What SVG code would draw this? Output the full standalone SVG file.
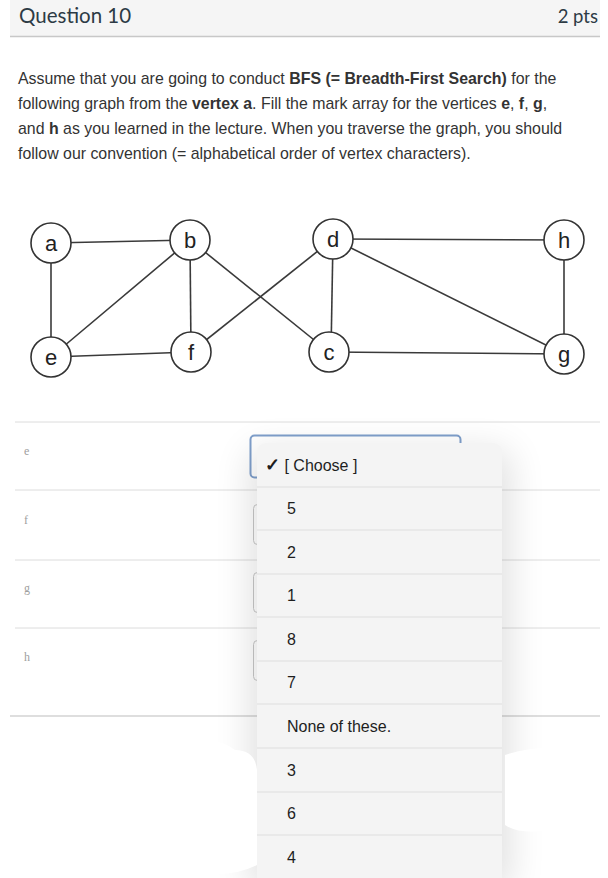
<svg xmlns="http://www.w3.org/2000/svg" width="608" height="878" viewBox="0 0 608 878">
<defs>
<filter id="sh" x="-30%" y="-10%" width="160%" height="130%"><feGaussianBlur stdDeviation="18"/></filter>
<style>
.hd{font-family:Lato,"Liberation Sans",sans-serif;font-size:20.5px;fill:#2d3b45}
.p{font-family:"Liberation Sans",Arial,sans-serif;font-size:15.9px;fill:#333}
.b{font-weight:bold}
.edge{stroke:#3a3a3a;stroke-width:1.6;fill:none}
.node circle{fill:#fff;stroke:#333;stroke-width:1.6}
.node text{font-family:"Liberation Sans",Arial,sans-serif;font-size:22px;fill:#222;text-anchor:middle}
.row{stroke:#dcdcdc;stroke-width:1}
.lbl{font-family:"Liberation Serif",serif;font-size:12px;fill:#a0a0a0}
.opt{font-family:"Liberation Sans",Arial,sans-serif;font-size:16px;fill:#1e1e1e}
.sep{stroke:#dedede;stroke-width:1}
</style>
</defs>
<rect width="608" height="878" fill="#fff"/>
<!-- header -->
<rect x="10" y="0" width="590" height="36" fill="#f5f5f5"/>
<line x1="10" y1="36.5" x2="600" y2="36.5" stroke="#c8c8c8" stroke-width="1.5"/>
<text class="hd" x="19" y="23">Question 10</text>
<text class="hd" x="598" y="23" text-anchor="end" style="font-size:18.5px">2 pts</text>
<!-- paragraph -->
<text class="p" x="18" y="84">Assume that you are going to conduct <tspan class="b">BFS (= Breadth-First Search)</tspan> for the</text>
<text class="p" x="18" y="109">following graph from the <tspan class="b">vertex a</tspan>. Fill the mark array for the vertices <tspan class="b">e</tspan>, <tspan class="b">f</tspan>, <tspan class="b">g</tspan>,</text>
<text class="p" x="18" y="134">and <tspan class="b">h</tspan> as you learned in the lecture. When you traverse the graph, you should</text>
<text class="p" x="18" y="159">follow our convention (= alphabetical order of vertex characters).</text>
<!-- graph -->
<g id="connectors">
<line class="edge" x1="51" y1="243" x2="190" y2="240"/>
<line class="edge" x1="51" y1="243" x2="51" y2="357"/>
<line class="edge" x1="51" y1="357" x2="190" y2="240"/>
<line class="edge" x1="190" y1="240" x2="191" y2="352"/>
<line class="edge" x1="190" y1="240" x2="329" y2="352"/>
<line class="edge" x1="51" y1="357" x2="191" y2="352"/>
<line class="edge" x1="191" y1="352" x2="333" y2="239"/>
<line class="edge" x1="333" y1="239" x2="331" y2="352"/>
<line class="edge" x1="333" y1="239" x2="564" y2="240"/>
<line class="edge" x1="333" y1="239" x2="564" y2="354"/>
<line class="edge" x1="564" y1="240" x2="564" y2="354"/>
<line class="edge" x1="329" y1="352" x2="564" y2="354"/>
</g>
<g id="node-a" class="node"><circle cx="51" cy="243" r="20"/><text x="51" y="251">a</text></g>
<g id="node-b" class="node"><circle cx="190" cy="240" r="20"/><text x="190" y="248">b</text></g>
<g id="node-d" class="node"><circle cx="333" cy="239" r="20"/><text x="333" y="247">d</text></g>
<g id="node-h" class="node"><circle cx="564" cy="240" r="20"/><text x="564" y="248">h</text></g>
<g id="node-e" class="node"><circle cx="51" cy="357" r="20"/><text x="51" y="365">e</text></g>
<g id="node-f" class="node"><circle cx="191" cy="352" r="20"/><text x="191" y="360">f</text></g>
<g id="node-c" class="node"><circle cx="329" cy="352" r="20"/><text x="329" y="360">c</text></g>
<g id="node-g" class="node"><circle cx="564" cy="354" r="20"/><text x="564" y="362">g</text></g>
<!-- rows -->
<line class="row" x1="15" y1="422" x2="600" y2="422"/>
<line class="row" x1="15" y1="490" x2="600" y2="490"/>
<line class="row" x1="15" y1="560" x2="600" y2="560"/>
<line class="row" x1="15" y1="628" x2="600" y2="628"/>
<line x1="10" y1="716" x2="600" y2="716" stroke="#bdbdbd" stroke-width="1"/>
<text class="lbl" x="24" y="455">e</text>
<text class="lbl" x="24" y="524">f</text>
<text class="lbl" x="24" y="592">g</text>
<text class="lbl" x="24" y="661">h</text>
<!-- selects -->
<rect x="250.5" y="435.5" width="210" height="42" rx="4" fill="#fff" stroke="#7f9fcb" stroke-width="2"/>
<rect x="253.5" y="504.5" width="207" height="40" rx="4" fill="#fff" stroke="#c8c8c8"/>
<rect x="253.5" y="572.5" width="207" height="40" rx="4" fill="#fff" stroke="#c8c8c8"/>
<rect x="253.5" y="640.5" width="207" height="40" rx="4" fill="#fff" stroke="#c8c8c8"/>
<!-- dropdown -->
<rect x="250" y="450" width="260" height="440" rx="10" fill="#000" opacity="0.12" filter="url(#sh)"/>
<path d="M150 760 q10 -25 40 -15 q25 -10 45 5 q20 0 22 20 l0 95 q-30 15 -70 5 q-40 5 -55 -15 q-10 -40 18 -95 z" fill="#fff"/>
<path d="M505 755 q30 -10 60 -5 q30 -5 35 10 l0 60 q-20 15 -50 10 q-30 5 -45 -5 z" fill="#fff"/>
<g id="dropdown">
<rect x="257" y="443" width="245" height="450" rx="9" fill="#f4f4f4"/>
<line class="sep" x1="257" y1="487" x2="502" y2="487"/>
<line class="sep" x1="257" y1="530" x2="502" y2="530"/>
<line class="sep" x1="257" y1="574" x2="502" y2="574"/>
<line class="sep" x1="257" y1="617" x2="502" y2="617"/>
<line class="sep" x1="257" y1="661" x2="502" y2="661"/>
<line class="sep" x1="257" y1="704" x2="502" y2="704"/>
<line class="sep" x1="257" y1="748" x2="502" y2="748"/>
<line class="sep" x1="257" y1="792" x2="502" y2="792"/>
<line class="sep" x1="257" y1="835" x2="502" y2="835"/>
<text class="opt" x="265" y="471"><tspan font-weight="bold" font-size="18">✓</tspan> [ Choose ]</text>
<text class="opt" x="287" y="514">5</text>
<text class="opt" x="287" y="558">2</text>
<text class="opt" x="287" y="601">1</text>
<text class="opt" x="287" y="645">8</text>
<text class="opt" x="287" y="688">7</text>
<text class="opt" x="287" y="732">None of these.</text>
<text class="opt" x="287" y="776">3</text>
<text class="opt" x="287" y="819">6</text>
<text class="opt" x="287" y="863">4</text>
</g>
</svg>
